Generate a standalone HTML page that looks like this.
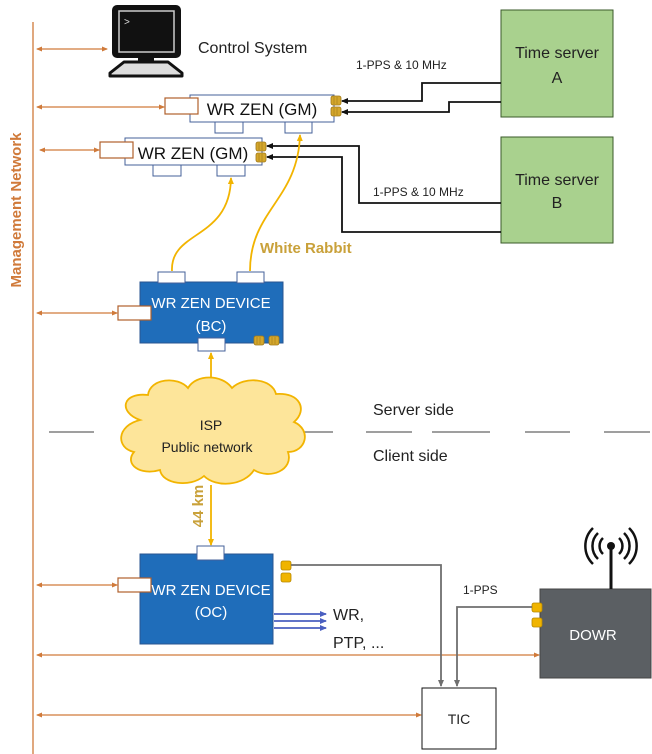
<!DOCTYPE html>
<html><head><meta charset="utf-8"><style>
html,body{margin:0;padding:0;background:#fff;}
svg{display:block;font-family:"Liberation Sans",sans-serif;}
</style></head><body>
<svg width="652" height="754" viewBox="0 0 652 754" xmlns="http://www.w3.org/2000/svg">
<defs>
<marker id="ao" markerWidth="6" markerHeight="6" refX="5" refY="3" orient="auto-start-reverse" markerUnits="userSpaceOnUse"><path d="M0,0.5 L6,3 L0,5.5z" fill="#d07a3a"/></marker>
<marker id="ab" markerWidth="7" markerHeight="7" refX="6" refY="3.5" orient="auto" markerUnits="userSpaceOnUse"><path d="M0,0.5 L7,3.5 L0,6.5z" fill="#111"/></marker>
<marker id="ay" markerWidth="7" markerHeight="7" refX="6" refY="3.5" orient="auto" markerUnits="userSpaceOnUse"><path d="M0,0.5 L7,3.5 L0,6.5z" fill="#f2b400"/></marker>
<marker id="ag" markerWidth="7" markerHeight="7" refX="6" refY="3.5" orient="auto" markerUnits="userSpaceOnUse"><path d="M0,0.5 L7,3.5 L0,6.5z" fill="#6f6f6f"/></marker>
<marker id="abl" markerWidth="7" markerHeight="7" refX="6" refY="3.5" orient="auto" markerUnits="userSpaceOnUse"><path d="M0,0.5 L7,3.5 L0,6.5z" fill="#4a5fc0"/></marker>
<g id="conn"><rect x="0" y="0" width="10" height="9" rx="2" fill="#d4a72c" stroke="#a07818" stroke-width="0.8"/><line x1="3" y1="1" x2="3" y2="8" stroke="#a07818" stroke-width="0.6"/><line x1="6" y1="1" x2="6" y2="8" stroke="#a07818" stroke-width="0.6"/></g>
<g id="conny"><rect x="0" y="0" width="10" height="9" rx="2" fill="#f0b400" stroke="#b88800" stroke-width="0.8"/></g>
</defs>

<line x1="33" y1="22" x2="33" y2="754" stroke="#d07a3a" stroke-width="1.3"/>
<text transform="translate(21,210) rotate(-90)" text-anchor="middle" font-size="15" font-weight="bold" fill="#d07a3a">Management Network</text>
<g stroke="#d07a3a" stroke-width="1.2" marker-start="url(#ao)" marker-end="url(#ao)">
<line x1="37" y1="49" x2="107" y2="49"/>
<line x1="37" y1="107" x2="164" y2="107"/>
<line x1="40" y1="150" x2="99" y2="150"/>
<line x1="37" y1="313" x2="117" y2="313"/>
<line x1="37" y1="585" x2="117" y2="585"/>
<line x1="37" y1="655" x2="539" y2="655"/>
<line x1="37" y1="715" x2="421" y2="715"/>
</g>

<rect x="112" y="5" width="69" height="53" rx="5" fill="#111"/>
<rect x="119" y="11" width="55" height="41" fill="#111" stroke="#ccc" stroke-width="1.5"/>
<text x="124" y="25" font-size="10" fill="#ddd">&gt;</text>
<rect x="138" y="57" width="16" height="6" fill="#111"/>
<path d="M124,62 L168,62 L182,73 L182,76 L110,76 L110,73z" fill="#ddd" stroke="#111" stroke-width="3" stroke-linejoin="round"/>
<text x="198" y="53" font-size="16" fill="#222">Control System</text>

<rect x="190" y="95" width="144" height="27" fill="#fff" stroke="#44609a" stroke-width="1"/>
<text x="262" y="115" text-anchor="middle" font-size="17" fill="#111">WR ZEN (GM)</text>
<rect x="165" y="98" width="33" height="16" fill="#fff" stroke="#b0602c" stroke-width="1.2"/>
<rect x="215" y="122" width="28" height="11" fill="#fff" stroke="#44609a"/>
<rect x="285" y="122" width="27" height="11" fill="#fff" stroke="#44609a"/>
<use href="#conn" x="331" y="96"/><use href="#conn" x="331" y="107"/>

<rect x="125" y="138" width="137" height="27" fill="#fff" stroke="#44609a" stroke-width="1"/>
<text x="193" y="159" text-anchor="middle" font-size="17" fill="#111">WR ZEN (GM)</text>
<rect x="100" y="142" width="33" height="16" fill="#fff" stroke="#b0602c" stroke-width="1.2"/>
<rect x="153" y="165" width="28" height="11" fill="#fff" stroke="#44609a"/>
<rect x="217" y="165" width="28" height="11" fill="#fff" stroke="#44609a"/>
<use href="#conn" x="256" y="142"/><use href="#conn" x="256" y="153"/>

<rect x="501" y="10" width="112" height="107" fill="#a9d18e" stroke="#3a5a2a" stroke-width="1"/>
<text x="557" y="58" text-anchor="middle" font-size="16" fill="#222">Time server</text>
<text x="557" y="83" text-anchor="middle" font-size="16" fill="#222">A</text>
<rect x="501" y="137" width="112" height="106" fill="#a9d18e" stroke="#3a5a2a" stroke-width="1"/>
<text x="557" y="185" text-anchor="middle" font-size="16" fill="#222">Time server</text>
<text x="557" y="208" text-anchor="middle" font-size="16" fill="#222">B</text>

<g fill="none" stroke="#111" stroke-width="1.8">
<polyline points="501,83 422,83 422,101 342,101" marker-end="url(#ab)"/>
<polyline points="501,102 449,102 449,112 342,112" marker-end="url(#ab)"/>
<polyline points="501,203 359,203 359,146 267,146" marker-end="url(#ab)"/>
<polyline points="501,232 342,232 342,157 267,157" marker-end="url(#ab)"/>
</g>
<text x="356" y="69" font-size="12" fill="#222">1-PPS &amp; 10 MHz</text>
<text x="373" y="196" font-size="12" fill="#222">1-PPS &amp; 10 MHz</text>

<g fill="none" stroke="#f2b400" stroke-width="1.8">
<path d="M172,271 C170,230 230,240 231,178" marker-end="url(#ay)"/>
<path d="M250,271 C250,210 298,200 300,135" marker-end="url(#ay)"/>
<line x1="211" y1="392" x2="211" y2="353" marker-end="url(#ay)"/>
<line x1="211" y1="485" x2="211" y2="545" marker-end="url(#ay)"/>
</g>
<text x="260" y="253" font-size="15" font-weight="bold" fill="#c9a13a">White Rabbit</text>

<rect x="140" y="282" width="143" height="61" fill="#1f6dba" stroke="#2a5590"/>
<text x="211" y="308" text-anchor="middle" font-size="15" fill="#fff">WR ZEN DEVICE</text>
<text x="211" y="331" text-anchor="middle" font-size="15" fill="#fff">(BC)</text>
<rect x="158" y="272" width="27" height="11" fill="#fff" stroke="#44609a"/>
<rect x="237" y="272" width="27" height="11" fill="#fff" stroke="#44609a"/>
<rect x="118" y="306" width="33" height="14" fill="#fff" stroke="#b0602c" stroke-width="1.2"/>
<rect x="198" y="338" width="27" height="13" fill="#fff" stroke="#44609a"/>
<use href="#conn" x="254" y="336"/><use href="#conn" x="269" y="336"/>

<g stroke="#666" stroke-width="1.2">
<line x1="49" y1="432" x2="94" y2="432"/>
<line x1="300" y1="432" x2="333" y2="432"/>
<line x1="366" y1="432" x2="412" y2="432"/>
<line x1="432" y1="432" x2="490" y2="432"/>
<line x1="525" y1="432" x2="570" y2="432"/>
<line x1="604" y1="432" x2="650" y2="432"/>
</g>
<text x="373" y="415" font-size="16" fill="#222">Server side</text>
<text x="373" y="461" font-size="16" fill="#222">Client side</text>

<path d="M140,420 C118,412 122,392 148,395 C150,378 178,376 188,388 C196,374 222,374 232,388 C244,376 272,378 276,394 C300,392 308,410 294,422 C312,430 306,452 288,452 C294,470 270,480 254,470 C244,486 216,488 204,476 C190,488 162,484 160,470 C140,476 124,464 134,452 C116,448 116,426 140,420z" fill="#fde59a" stroke="#f2b400" stroke-width="1.8"/>
<text x="211" y="430" text-anchor="middle" font-size="14" fill="#222">ISP</text>
<text x="207" y="452" text-anchor="middle" font-size="14" fill="#222">Public network</text>
<text transform="translate(203,506) rotate(-90)" text-anchor="middle" font-size="15" font-weight="bold" fill="#c9a13a">44 km</text>

<rect x="140" y="554" width="133" height="90" fill="#1f6dba" stroke="#2a5590"/>
<text x="211" y="595" text-anchor="middle" font-size="15" fill="#fff">WR ZEN DEVICE</text>
<text x="211" y="617" text-anchor="middle" font-size="15" fill="#fff">(OC)</text>
<rect x="197" y="546" width="27" height="14" fill="#fff" stroke="#44609a"/>
<rect x="118" y="578" width="33" height="14" fill="#fff" stroke="#b0602c" stroke-width="1.2"/>
<use href="#conny" x="281" y="561"/><use href="#conny" x="281" y="573"/>
<g stroke="#4a5fc0" stroke-width="1.8" marker-end="url(#abl)">
<line x1="274" y1="614" x2="326" y2="614"/>
<line x1="274" y1="621" x2="326" y2="621"/>
<line x1="274" y1="628" x2="326" y2="628"/>
</g>
<text x="333" y="620" font-size="16" fill="#222">WR,</text>
<text x="333" y="648" font-size="16" fill="#222">PTP, ...</text>

<rect x="540" y="589" width="111" height="89" fill="#5b5f63" stroke="#444"/>
<text x="593" y="640" text-anchor="middle" font-size="15" fill="#fff">DOWR</text>
<use href="#conny" x="532" y="603"/><use href="#conny" x="532" y="618"/>
<line x1="611" y1="546" x2="611" y2="589" stroke="#111" stroke-width="3"/>
<circle cx="611" cy="546" r="4" fill="#111"/>
<g fill="none" stroke="#111" stroke-width="2.5">
<path d="M603,538 A11,11 0 0 0 603,554"/><path d="M619,538 A11,11 0 0 1 619,554"/>
<path d="M598,533 A18,18 0 0 0 598,559"/><path d="M624,533 A18,18 0 0 1 624,559"/>
<path d="M593,528 A25,25 0 0 0 593,564"/><path d="M629,528 A25,25 0 0 1 629,564"/>
</g>

<rect x="422" y="688" width="74" height="61" fill="#fff" stroke="#111"/>
<text x="459" y="724" text-anchor="middle" font-size="14" fill="#222">TIC</text>
<g fill="none" stroke="#6f6f6f" stroke-width="1.8">
<polyline points="291,565 441,565 441,686" marker-end="url(#ag)"/>
<polyline points="532,607 457,607 457,686" marker-end="url(#ag)"/>
</g>
<text x="463" y="594" font-size="12" fill="#222">1-PPS</text>
</svg>
</body></html>
